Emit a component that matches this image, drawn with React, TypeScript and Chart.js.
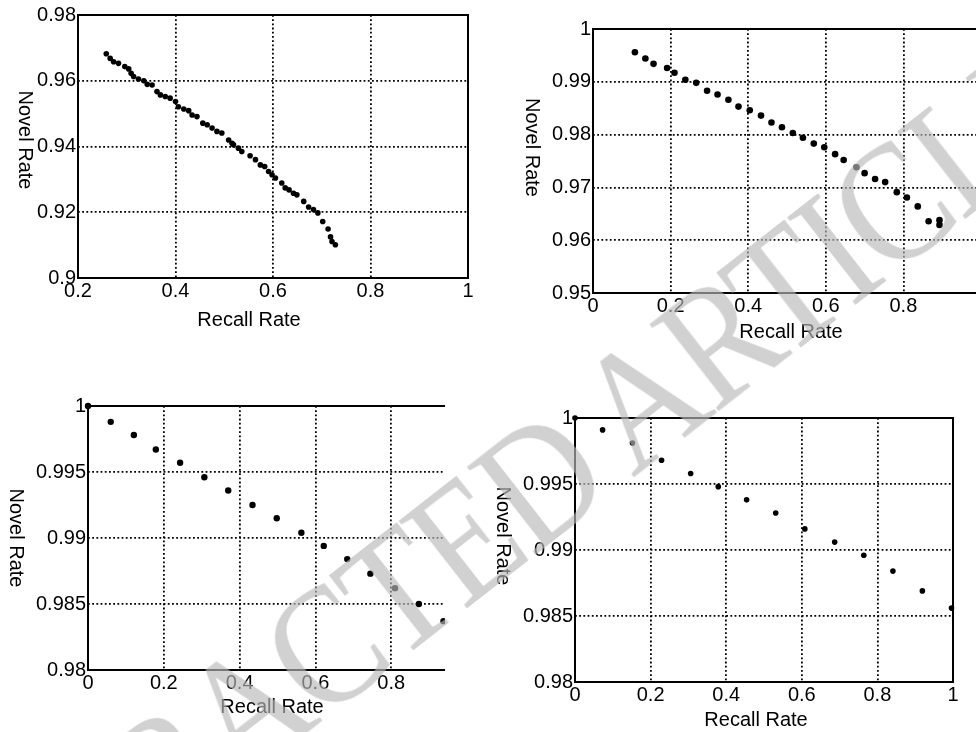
import React, { useEffect, useRef } from "react";
import { Chart, registerables } from "chart.js";

Chart.register(...registerables);

// ---- Data ----
const recall1 = [0.258, 0.266, 0.273, 0.283, 0.296, 0.304, 0.309, 0.314, 0.324, 0.335, 0.342, 0.352, 0.362, 0.369, 0.379, 0.389, 0.4, 0.406, 0.417, 0.427, 0.434, 0.444, 0.456, 0.465, 0.475, 0.485, 0.495, 0.509, 0.516, 0.519, 0.529, 0.536, 0.553, 0.564, 0.574, 0.583, 0.591, 0.598, 0.605, 0.618, 0.625, 0.633, 0.642, 0.649, 0.663, 0.673, 0.683, 0.692, 0.702, 0.713, 0.718, 0.721, 0.728];
const novel1 = [0.9682, 0.9668, 0.9658, 0.9653, 0.9643, 0.9636, 0.9623, 0.9613, 0.9605, 0.96, 0.9589, 0.9587, 0.9567, 0.9557, 0.9552, 0.9547, 0.9537, 0.9521, 0.9514, 0.9509, 0.9496, 0.9491, 0.9471, 0.9466, 0.9456, 0.9446, 0.9441, 0.942, 0.941, 0.9405, 0.9395, 0.9385, 0.9372, 0.936, 0.9344, 0.9339, 0.9324, 0.9314, 0.9304, 0.9289, 0.9274, 0.9268, 0.9258, 0.9253, 0.9233, 0.9216, 0.9208, 0.9198, 0.9172, 0.9149, 0.9125, 0.9111, 0.9101];

const recall2 = [0.108, 0.135, 0.156, 0.191, 0.21, 0.238, 0.266, 0.294, 0.321, 0.349, 0.375, 0.404, 0.433, 0.46, 0.487, 0.515, 0.541, 0.569, 0.596, 0.624, 0.646, 0.679, 0.7, 0.727, 0.753, 0.783, 0.809, 0.837, 0.865, 0.893, 0.893];
const novel2 = [0.9956, 0.9944, 0.9934, 0.9926, 0.9917, 0.9904, 0.9898, 0.9883, 0.9876, 0.9866, 0.9853, 0.9846, 0.9836, 0.9823, 0.9814, 0.9803, 0.9794, 0.9783, 0.9776, 0.9763, 0.9752, 0.9738, 0.9727, 0.9716, 0.971, 0.9691, 0.9681, 0.9664, 0.9636, 0.9638, 0.9629];

const recall3 = [0, 0.06, 0.121, 0.179, 0.243, 0.307, 0.37, 0.434, 0.498, 0.563, 0.622, 0.684, 0.745, 0.81, 0.873, 0.938];
const novel3 = [1, 0.9988, 0.9978, 0.9967, 0.9957, 0.9946, 0.9936, 0.9925, 0.9915, 0.9904, 0.9894, 0.9884, 0.9873, 0.9862, 0.985, 0.9837];

const recall4 = [0, 0.073, 0.152, 0.229, 0.306, 0.379, 0.454, 0.531, 0.608, 0.687, 0.764, 0.841, 0.919, 0.996];
const novel4 = [1, 0.9991, 0.9981, 0.9968, 0.9958, 0.9948, 0.9938, 0.9928, 0.9916, 0.9906, 0.9896, 0.9884, 0.9869, 0.9856];

const xTicks1 = [0.2, 0.4, 0.6, 0.8, 1];
const yTicks1 = [0.9, 0.92, 0.94, 0.96, 0.98];
const xTicks2 = [0, 0.2, 0.4, 0.6, 0.8, 1];
const yTicks2 = [0.95, 0.96, 0.97, 0.98, 0.99, 1];
const xTicks3 = [0, 0.2, 0.4, 0.6, 0.8, 1];
const yTicks3 = [0.98, 0.985, 0.99, 0.995, 1];
const xTicks4 = [0, 0.2, 0.4, 0.6, 0.8, 1];
const yTicks4 = [0.98, 0.985, 0.99, 0.995, 1];

const X_TITLE = "Recall Rate";
const Y_TITLE = "Novel Rate";
const WATERMARK = "RETRACTED ARTICLE";

const FONT = "'Liberation Sans', Arial, Helvetica, sans-serif";

const fmt = (v: number | string) => String(Number(Number(v).toFixed(4)));

const framePlugin = {
  id: "frame",
  afterDatasetsDraw(chart: any) {
    const { ctx, chartArea } = chart;
    const { left, top, right, bottom } = chartArea;
    ctx.save();
    ctx.setLineDash([]);
    ctx.lineWidth = 2;
    ctx.strokeStyle = "#000";
    ctx.strokeRect(left, top, right - left, bottom - top);
    ctx.restore();
  },
};

const titlesPlugin = {
  id: "axisTitles",
  afterDraw(chart: any, _args: any, opts: any) {
    const { ctx, chartArea } = chart;
    const { left, top, right, bottom } = chartArea;
    ctx.save();
    ctx.fillStyle = "#000";
    ctx.font = `20px ${FONT}`;
    ctx.textAlign = "center";
    ctx.textBaseline = "middle";
    ctx.fillText(opts.xText, (left + right) / 2 + opts.xdx, bottom + opts.xdy);
    ctx.translate(left + opts.ydx, (top + bottom) / 2 + opts.ydy);
    ctx.rotate(Math.PI / 2);
    ctx.fillText(opts.yText, 0, 0);
    ctx.restore();
  },
};

type PanelProps = {
  recall: number[];
  novel: number[];
  xTicks: number[];
  yTicks: number[];
  canvasLeft: number;
  canvasTop: number;
  canvasW: number;
  canvasH: number;
  padL: number;
  padT: number;
  padR: number;
  padB: number;
  clipW?: number;
  radius: number;
  titleOff: { xdx: number; xdy: number; ydx: number; ydy: number };
};

function Panel(p: PanelProps) {
  const ref = useRef<HTMLCanvasElement | null>(null);
  useEffect(() => {
    if (!ref.current) return;
    const tickFont = { family: FONT, size: 20 };
    const grid = { color: "#000", lineWidth: 1.8, drawTicks: false };
    const border = { display: false, dash: [1.8, 2.4] };
    const chart = new Chart(ref.current, {
      type: "scatter",
      data: {
        datasets: [
          {
            data: p.recall.map((x, i) => ({ x, y: p.novel[i] })),
            backgroundColor: "#000",
            borderColor: "#000",
            pointRadius: p.radius,
            pointBorderWidth: 0,
            borderWidth: 0,
            clip: false as any,
          },
        ],
      },
      options: {
        animation: false,
        responsive: false,
        maintainAspectRatio: false,
        events: [],
        layout: { padding: { left: 0, top: p.padT, right: p.padR, bottom: 0 } },
        plugins: {
          legend: { display: false },
          tooltip: { enabled: false },
          axisTitles: { xText: X_TITLE, yText: Y_TITLE, ...p.titleOff },
        } as any,
        scales: {
          x: {
            type: "linear",
            min: p.xTicks[0],
            max: 1,
            afterBuildTicks: (s: any) => {
              s.ticks = p.xTicks.map((value) => ({ value }));
            },
            afterFit: (s: any) => {
              s.height = p.padB;
              s.paddingLeft = 0;
              s.paddingRight = 0;
            },
            ticks: { autoSkip: false, maxRotation: 0, minRotation: 0, padding: 1.5, color: "#000", font: tickFont, callback: (v: any) => fmt(v) },
            grid,
            border,
          },
          y: {
            type: "linear",
            min: p.yTicks[0],
            max: p.yTicks[p.yTicks.length - 1],
            afterBuildTicks: (s: any) => {
              s.ticks = p.yTicks.map((value) => ({ value }));
            },
            afterFit: (s: any) => {
              s.width = p.padL;
              s.paddingTop = 0;
              s.paddingBottom = 0;
            },
            ticks: { autoSkip: false, padding: 2, color: "#000", font: tickFont, callback: (v: any) => fmt(v) },
            grid,
            border,
          },
        },
      } as any,
      plugins: [framePlugin, titlesPlugin],
    });
    return () => chart.destroy();
  }, []);

  const wrapW = p.clipW ?? p.canvasW;
  return (
    <div
      style={{
        position: "absolute",
        left: p.canvasLeft,
        top: p.canvasTop,
        width: wrapW,
        height: p.canvasH,
        overflow: "hidden",
      }}
    >
      <canvas
        ref={ref}
        width={p.canvasW}
        height={p.canvasH}
        style={{ position: "absolute", left: 0, top: 0, width: p.canvasW, height: p.canvasH }}
      />
    </div>
  );
}

export default function App() {
  return (
    <div
      style={{
        position: "fixed",
        left: 0,
        top: 0,
        width: 976,
        height: 732,
        overflow: "hidden",
        background: "#fff",
      }}
    >
      <Panel
        recall={recall1}
        novel={novel1}
        xTicks={xTicks1}
        yTicks={yTicks1}
        canvasLeft={0}
        canvasTop={0}
        canvasW={490}
        canvasH={345}
        padL={78}
        padT={15}
        padR={22}
        padB={67}
        radius={2.8}
        titleOff={{ xdx: -24, xdy: 42.5, ydx: -53.5, ydy: -6.5 }}
      />
      <Panel
        recall={recall2}
        novel={novel2}
        xTicks={xTicks2}
        yTicks={yTicks2}
        canvasLeft={500}
        canvasTop={0}
        canvasW={500}
        canvasH={350}
        clipW={476}
        padL={93}
        padT={29}
        padR={19}
        padB={57}
        radius={3.3}
        titleOff={{ xdx: 4, xdy: 39, ydx: -61, ydy: -13.5 }}
      />
      <Panel
        recall={recall3}
        novel={novel3}
        xTicks={xTicks3}
        yTicks={yTicks3}
        canvasLeft={0}
        canvasTop={380}
        canvasW={480}
        canvasH={352}
        clipW={445}
        padL={88}
        padT={26}
        padR={13}
        padB={62}
        radius={3.2}
        titleOff={{ xdx: -5.5, xdy: 37.5, ydx: -72, ydy: 0 }}
      />
      <Panel
        recall={recall4}
        novel={novel4}
        xTicks={xTicks4}
        yTicks={yTicks4}
        canvasLeft={490}
        canvasTop={390}
        canvasW={486}
        canvasH={342}
        padL={85}
        padT={28}
        padR={23}
        padB={50}
        radius={2.8}
        titleOff={{ xdx: -8, xdy: 38.5, ydx: -72.5, ydy: -14 }}
      />
      <div
        style={{
          position: "absolute",
          left: 490,
          top: 518,
          transform: "translate(-50%, -50%) rotate(-38deg) scaleX(0.88)",
          fontFamily: "'Liberation Serif', 'Times New Roman', serif",
          fontSize: 170,
          letterSpacing: "-0.03em",
          lineHeight: 1,
          color: "rgba(185,185,185,0.65)",
          whiteSpace: "nowrap",
          pointerEvents: "none",
          zIndex: 5,
        }}
      >
        {WATERMARK}
      </div>
    </div>
  );
}
